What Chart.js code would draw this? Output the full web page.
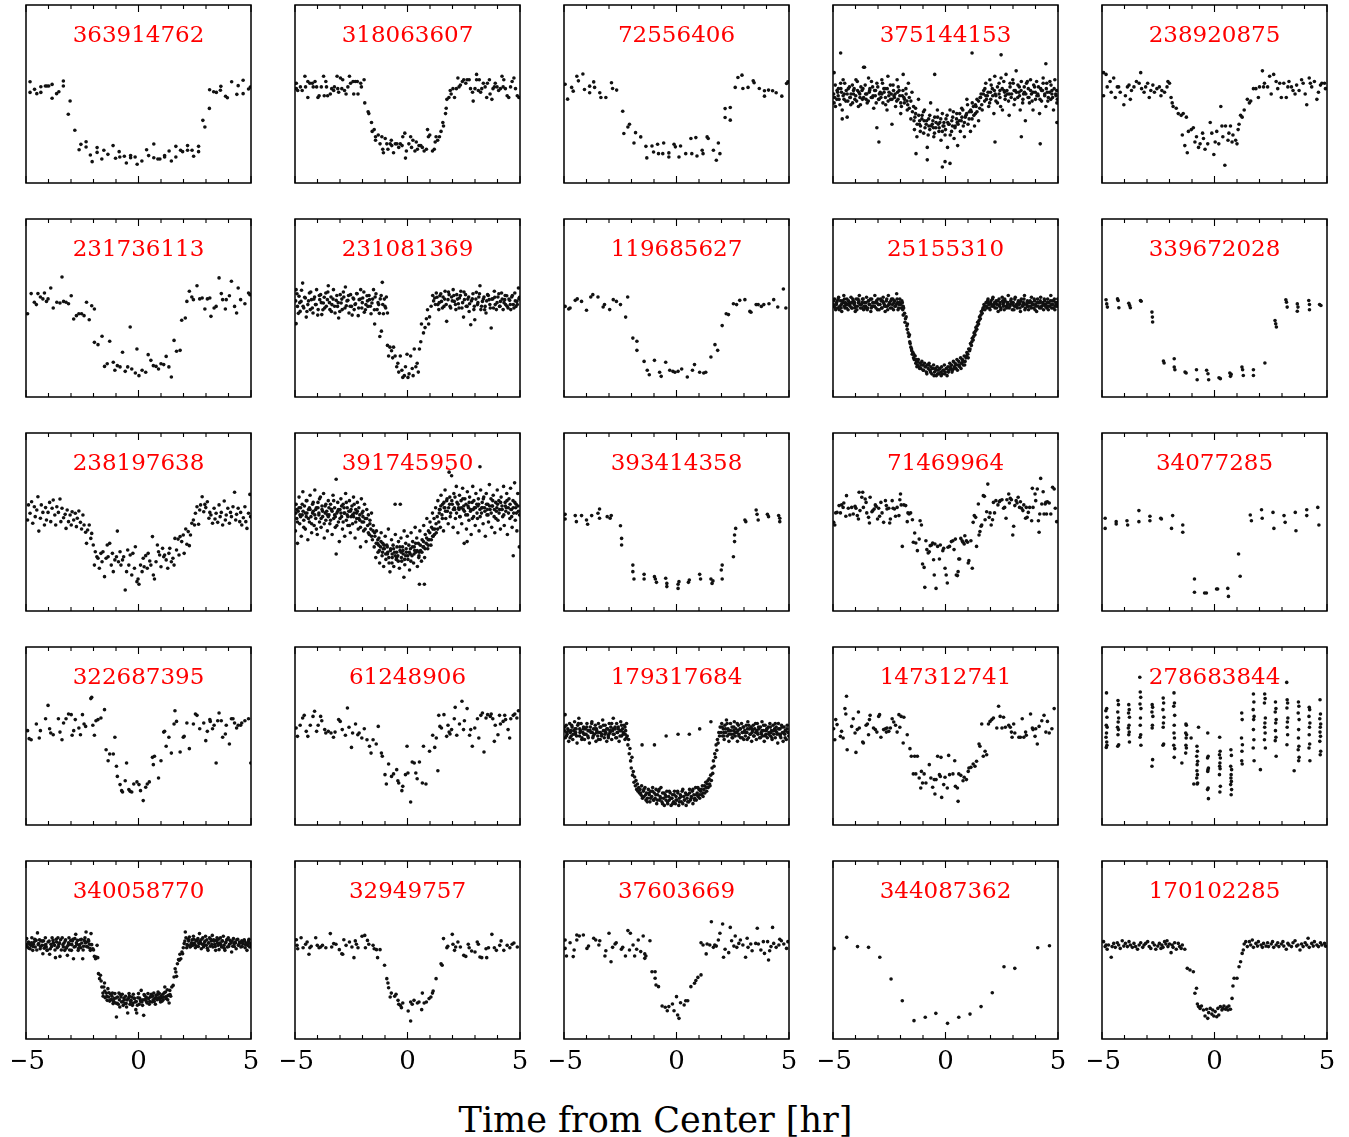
<!DOCTYPE html>
<html>
<head>
<meta charset="utf-8">
<script src="https://cdn.jsdelivr.net/npm/chart.js@4.4.1/dist/chart.umd.min.js"></script>
<style>
  body { margin: 0; background: #fff; width: 1349px; height: 1137px; position: relative; overflow: hidden; }
  canvas.panel { position: absolute; }
  #xlabel { position: absolute; left: 0; width: 1311px; top: 1103px; line-height: 1; text-align: center;
            font-family: 'DejaVu Serif', serif; font-size: 35px; color: #000; }
</style>
</head>
<body>
<div id="xlabel">Time from Center [hr]</div>
<script>
// light curves: flat lists of (time [hr], relative flux in % of panel height)
const tic363914762 = [-4.82,56.9,-4.82,50.9,-4.62,52.6,-4.52,50.2,-4.34,54.1,-4.34,50.9,-4.14,54.5,-4.07,54.5,-3.99,54.5,-3.84,55.4,-3.84,47.6,-3.64,50.2,-3.54,51.3,-3.34,57.3,-3.34,54.5,-3.12,38.6,-3.04,46.1,-2.83,29.6,-2.64,18.7,-2.56,21.7,-2.33,23.2,-2.33,20.2,-2.14,15.7,-2.06,12.0,-1.84,19.9,-1.84,17.2,-1.63,13.5,-1.54,18.4,-1.36,16.1,-1.13,21.0,-1.02,13.9,-0.86,17.6,-0.83,14.6,-0.63,15.0,-0.54,11.2,-0.35,15.4,-0.35,14.2,-0.15,14.6,-0.06,10.5,0.15,12.4,0.36,18.7,0.45,15.4,0.68,21.9,0.68,14.2,0.86,13.5,0.95,13.5,1.16,15.4,1.16,14.6,1.36,18.0,1.46,12.4,1.66,20.6,1.66,14.6,1.87,18.4,1.96,17.6,2.18,21.0,2.18,18.4,2.38,18.4,2.45,15.0,2.67,20.6,2.67,17.6,2.86,35.2,2.95,31.5,3.15,41.9,3.16,52.4,3.34,51.3,3.46,50.9,3.64,52.1,3.66,54.3,3.87,48.7,3.95,47.9,4.14,56.9,4.37,49.8,4.43,54.7,4.65,57.7,4.65,50.2,4.89,52.8,4.97,53.9];
const tic318063607 = [-4.94,56,-4.94,53,-4.88,52,-4.76,54,-4.68,52,-4.56,60,-4.53,54,-4.43,48,-4.43,57,-4.34,56,-4.23,56,-4.19,54,-4.11,57,-4.04,54,-3.98,48,-3.93,49,-3.83,54,-3.73,60,-3.70,49,-3.63,57,-3.60,54,-3.55,49,-3.43,50,-3.37,53,-3.28,52,-3.25,54,-3.13,60,-3.10,53,-3.06,51,-2.98,59,-2.92,53,-2.88,58,-2.80,52,-2.73,50,-2.65,54,-2.58,60,-2.53,56,-2.42,57,-2.39,50,-2.32,57,-2.23,57,-2.20,50,-2.08,56,-2.05,54,-1.93,58,-1.90,45,-1.75,40,-1.72,39,-1.60,34,-1.57,29,-1.48,30,-1.42,26,-1.42,24,-1.30,27,-1.22,22,-1.14,26,-1.10,19,-1.07,17,-0.99,25,-0.92,22,-0.87,19,-0.77,22,-0.72,24,-0.70,21,-0.62,17,-0.54,22,-0.47,22,-0.39,20,-0.32,22,-0.24,21,-0.21,26,-0.12,28,-0.09,14,-0.05,18,0.06,22,0.14,26,0.18,20,0.24,24,0.33,18,0.39,23,0.44,19,0.51,21,0.59,21,0.66,20,0.74,18,0.84,19,0.89,30,0.93,26,0.99,27,1.11,18,1.19,19,1.23,23,1.27,26,1.34,24,1.42,26,1.49,29,1.57,34,1.60,32,1.69,39,1.72,42,1.75,47,1.84,48,1.90,52,1.94,50,2.02,53,2.09,48,2.17,53,2.24,59,2.29,54,2.35,55,2.44,57,2.50,58,2.59,56,2.65,58,2.74,58,2.80,53,2.89,51,2.92,46,3.00,53,3.07,61,3.07,58,3.15,52,3.19,58,3.25,51,3.30,53,3.37,56,3.45,54,3.52,48,3.55,56,3.64,58,3.67,50,3.75,47,3.80,53,3.86,54,3.90,56,3.98,54,4.05,52,4.13,53,4.20,60,4.25,54,4.28,58,4.35,53,4.43,49,4.50,48,4.58,54,4.65,57,4.73,59,4.80,53,4.88,49,4.95,48];
const tic72556406 = [-4.95,55.5,-4.84,47.1,-4.66,53.7,-4.59,51.6,-4.43,60.0,-4.36,57.4,-4.16,61.2,-4.09,52.5,-3.86,54.4,-3.86,50.7,-3.68,56.8,-3.64,53.7,-3.41,50.7,-3.36,48.0,-3.14,48.0,-2.89,56.3,-2.84,53.1,-2.66,52.2,-2.39,40.3,-2.34,27.8,-2.16,31.5,-2.09,33.0,-1.89,22.5,-1.82,28.3,-1.59,25.9,-1.36,20.6,-1.32,14.1,-1.09,20.8,-1.02,17.4,-0.84,21.8,-0.80,16.5,-0.61,16.5,-0.57,22.5,-0.34,16.9,-0.34,14.6,-0.11,21.8,-0.05,20.3,0.11,14.6,0.18,20.8,0.41,16.5,0.64,25.0,0.68,16.5,0.86,25.5,0.91,15.2,1.14,18.4,1.18,16.5,1.36,25.9,1.41,25.0,1.64,18.4,1.77,12.8,1.86,22.5,1.93,16.5,2.16,41.8,2.16,36.8,2.39,42.4,2.39,35.3,2.61,53.7,2.73,59.3,2.91,60.6,2.95,53.1,3.18,53.7,3.41,57.4,3.45,56.3,3.68,53.1,3.91,51.8,3.91,48.8,4.09,52.2,4.27,51.8,4.43,50.7,4.68,48.8,4.89,55.9,4.95,56.8];
const tic375144153 = [-4.95,62,-4.95,45,-4.89,43,-4.82,52,-4.77,49,-4.73,47,-4.66,56,-4.59,41,-4.55,58,-4.50,50,-4.43,46,-4.37,37,-4.32,53,-4.25,48,-4.21,44,-4.14,55,-4.09,50,-4.03,47,-3.98,58,-3.91,52,-3.87,43,-3.80,48,-3.76,54,-3.69,47,-3.64,65,-3.55,50,-3.48,45,-3.42,59,-3.37,52,-3.30,48,-3.24,54,-3.19,42,-3.12,49,-3.05,56,-2.96,47,-2.90,51,-2.83,58,-2.78,45,-2.74,53,-2.67,48,-2.60,41,-2.56,60,-2.51,51,-2.44,47,-2.38,33,-2.33,55,-2.29,49,-2.22,43,-2.15,58,-2.11,47,-2.06,52,-1.99,39,-1.92,49,-1.88,61,-1.83,45,-1.76,53,-1.70,41,-1.65,56,-1.61,48,-1.54,36,-1.49,51,
-1.42,43,-1.38,30,-1.33,39,-1.27,26,-1.20,47,-1.15,35,-1.11,32,-1.04,38,-0.97,28,-0.93,41,-0.86,33,-0.81,20,-0.75,36,-0.70,30,-0.66,45,-0.59,33,-0.52,26,-0.48,37,-0.43,31,-0.36,41,-0.29,29,-0.25,34,-0.20,24,-0.14,39,-0.07,32,-0.02,27,0.02,36,0.09,20,0.16,33,0.20,41,0.27,29,0.32,37,0.38,25,0.43,32,0.50,39,0.54,21,0.61,35,0.66,29,0.72,42,0.79,32,0.84,26,0.88,37,0.95,47,1.00,33,1.06,40,1.11,29,1.18,36,1.24,43,1.29,32,1.33,39,1.40,47,1.47,35,1.52,42,1.56,48,
1.63,41,1.70,52,1.74,46,1.79,56,1.86,49,1.92,43,1.97,58,2.01,47,2.08,53,2.15,39,2.19,60,2.24,49,2.31,45,2.38,56,2.42,48,2.47,59,2.53,41,2.60,52,2.65,47,2.69,61,2.76,50,2.83,38,2.87,56,2.92,48,2.99,58,3.05,44,3.10,52,3.14,63,3.21,48,3.28,54,3.32,41,3.37,57,3.44,47,3.51,51,3.55,35,3.60,56,3.67,48,3.73,45,3.78,58,3.82,50,3.89,41,3.96,54,4.00,47,4.05,57,4.12,49,4.18,39,4.23,53,4.27,46,4.34,59,4.41,50,4.46,43,4.50,56,4.57,48,4.64,57,4.68,47,4.73,52,4.80,41,4.86,58,4.91,49,4.95,45,
-4.66,73,-3.60,65,-0.48,61,1.18,73,2.47,72,4.46,67,-3.05,31,-2.96,23,-4.59,36,-1.31,16.5,-0.81,13,-0.14,9,-0.02,12,0.20,11,4.21,22,2.20,23,3.37,26,4.95,34,
-4.97,50,-4.90,55,-4.83,47,-4.76,53,-4.69,44,-4.62,51,-4.55,49,-4.48,56,-4.41,52,-4.34,46,-4.27,54,-4.20,50,-4.13,45,-4.06,53,-3.99,49,-3.92,57,-3.85,51,-3.78,44,-3.71,52,-3.64,48,-3.57,55,-3.50,50,-3.43,46,-3.36,53,-3.29,57,-3.22,49,-3.15,52,-3.08,45,-3.01,54,-2.94,50,-2.87,48,-2.80,56,-2.73,51,-2.66,44,-2.59,53,-2.52,49,-2.45,55,-2.38,47,-2.31,52,-2.24,50,-2.17,46,-2.10,54,-2.03,49,-1.96,43,-1.89,52,-1.82,47,-1.75,50,-1.68,44,-1.61,42,-1.54,46,
-4.93,48,-4.79,51,-4.65,53,-4.51,47,-4.37,50,-4.23,48,-4.09,52,-3.95,46,-3.81,50,-3.67,53,-3.53,47,-3.39,51,-3.25,48,-3.11,52,-2.97,47,-2.83,50,-2.69,53,-2.55,46,-2.41,50,-2.27,48,-2.13,51,-1.99,45,-1.85,48,-1.71,46,
-1.47,40,-1.40,35,-1.33,42,-1.26,33,-1.19,38,-1.12,29,-1.05,36,-0.98,40,-0.91,31,-0.84,35,-0.77,27,-0.70,38,-0.63,32,-0.56,35,-0.49,28,-0.42,34,-0.35,37,-0.28,31,-0.21,36,-0.14,29,-0.07,34,0.00,30,0.07,38,0.14,33,0.21,27,0.28,35,0.35,40,0.42,31,0.49,36,0.56,33,0.63,39,0.70,35,0.77,41,0.84,34,0.91,38,0.98,44,1.05,36,1.12,41,1.19,45,1.26,38,1.33,44,1.40,40,1.47,46,
-1.36,37,-1.16,33,-0.95,35,-0.74,32,-0.53,31,-0.32,33,-0.11,32,0.10,34,0.31,32,0.52,34,0.73,37,0.94,39,1.15,40,1.36,43,
1.54,48,1.61,44,1.68,50,1.75,53,1.82,47,1.89,51,1.96,45,2.03,55,2.10,49,2.17,52,2.24,46,2.31,54,2.38,50,2.45,43,2.52,53,2.59,57,2.66,49,2.73,52,2.80,46,2.87,54,2.94,50,3.01,56,3.08,47,3.15,51,3.22,55,3.29,49,3.36,52,3.43,45,3.50,54,3.57,50,3.64,57,3.71,48,3.78,52,3.85,46,3.92,55,3.99,51,4.06,49,4.13,54,4.20,47,4.27,52,4.34,56,4.41,49,4.48,53,4.55,46,4.62,51,4.69,55,4.76,48,4.83,53,4.90,50,4.97,47,
1.58,50,1.79,49,2.00,51,2.21,50,2.42,52,2.63,51,2.84,50,3.05,52,3.26,51,3.47,50,3.68,53,3.89,51,4.10,50,4.31,52,4.52,51,4.73,50,4.94,52];
const tic238920875 = [-4.93,62,-4.93,49,-4.82,61,-4.77,54,-4.64,57,-4.59,51,-4.48,59,-4.41,48,-4.32,54,-4.26,54,-4.19,51,-4.03,44,-3.96,49,-3.87,54,-3.80,55,-3.74,47,-3.69,52,-3.58,54,-3.47,57,-3.35,56,-3.28,62,-3.24,53,-3.13,51,-3.06,54,-2.97,56,-2.90,48,-2.83,52,-2.74,55,-2.67,51,-2.56,53,-2.45,54,-2.38,49,-2.34,52,-2.22,51,-2.11,54,-2.07,57,-2.00,56,-1.93,48,-1.88,45,-1.84,43,-1.70,42,-1.61,39,-1.48,38,-1.39,39,-1.25,37,-1.43,27,-1.32,21,-1.21,17,-1.16,29,-1.03,30,-0.94,31,-0.87,23,-0.80,26,-0.71,20,-0.64,22,-0.53,28,-0.49,25,-0.42,19,-0.30,22,-0.19,34,-0.12,28,-0.03,16,0.03,23,0.10,29,0.19,22,0.28,43,0.33,32,0.37,26,0.46,10,0.49,32,0.60,24,0.64,28,0.71,32,0.78,23,0.82,27,0.94,24,1.00,22,1.05,30,1.09,33,1.16,38,1.23,37,1.32,41,1.46,47,1.55,45,1.61,46,1.73,53,1.84,53,1.95,48,2.00,54,2.13,63,2.18,54,2.22,56,2.36,54,2.45,60,2.52,50,2.63,61,2.74,57,2.81,53,2.90,56,2.97,48,3.08,56,3.19,48,3.26,54,3.31,57,3.42,54,3.49,52,3.58,50,3.65,55,3.76,52,3.87,58,3.94,56,4.03,50,4.10,44,4.21,59,4.26,56,4.32,54,4.44,57,4.55,47,4.62,51,4.71,55,4.77,56,4.89,56,4.93,53];
const tic231736113 = [-4.93,46.8,-4.77,58.1,-4.63,53.2,-4.54,51.9,-4.47,58.1,-4.36,56.2,-4.25,55.1,-4.18,58.4,-4.09,53.7,-4.02,55.1,-3.90,61.2,-3.79,50.0,-3.63,53.2,-3.49,52.8,-3.40,67.4,-3.33,53.7,-3.22,53.2,-3.11,52.4,-2.99,56.9,-2.88,43.8,-2.76,45.7,-2.65,46.8,-2.53,46.8,-2.42,45.7,-2.31,53.2,-2.19,43.4,-2.08,51.3,-1.96,49.4,-1.96,30.7,-1.80,29.4,-1.62,34.1,-1.51,17.2,-1.39,18.7,-1.28,31.3,-1.12,19.5,-1.05,15.0,-0.94,17.6,-0.82,16.9,-0.71,25.1,-0.59,14.4,-0.48,16.9,-0.37,39.3,-0.30,15.7,-0.14,13.5,-0.07,27.0,0.02,12.0,0.16,15.0,0.32,13.9,0.43,23.8,0.55,20.6,0.66,17.6,0.78,17.2,0.89,15.7,1.00,18.7,1.12,18.2,1.23,22.8,1.35,16.9,1.46,11.2,1.58,31.8,1.69,25.7,1.85,26.2,1.92,43.1,2.08,44.4,2.15,53.7,2.26,59.4,2.37,56.2,2.44,54.7,2.60,62.5,2.72,55.1,2.83,55.6,2.95,49.4,3.06,55.1,3.17,55.6,3.22,45.3,3.36,50.0,3.45,50.9,3.58,66.9,3.68,58.1,3.74,54.7,3.86,49.4,3.90,54.7,4.04,56.9,4.13,65.0,4.27,50.9,4.36,47.2,4.43,61.2,4.54,54.7,4.73,52.4,4.89,58.4,4.95,57.5];
const tic231081369 = [-4.95,60.3,-4.95,41.2,-4.89,50.9,-4.82,56.6,-4.77,48.1,-4.73,53.7,-4.66,64.0,-4.61,50.0,-4.54,55.6,-4.50,44.9,-4.43,51.9,-4.36,58.4,-4.32,49.1,-4.27,54.7,-4.20,47.2,-4.13,56.2,-4.09,51.9,-4.04,60.3,-3.97,49.1,-3.90,54.7,-3.86,57.5,-3.81,46.3,-3.74,52.8,-3.68,50.0,-3.63,58.4,-3.56,54.7,-3.52,62.5,-3.45,49.1,-3.40,56.2,-3.36,51.9,-3.29,60.3,-3.22,47.2,-3.17,54.3,-3.11,50.9,-3.06,44.4,-2.99,57.5,-2.95,52.8,-2.90,49.1,-2.83,56.2,-2.76,61.8,-2.72,51.3,-2.65,54.3,-2.60,47.2,-2.53,57.5,-2.49,50.9,-2.42,55.6,-2.37,49.1,-2.31,52.4,-2.26,58.1,-2.19,45.7,-2.15,54.7,-2.08,60.3,-2.03,50.0,-1.99,55.6,-1.92,47.6,-1.85,51.9,-1.80,56.9,-1.76,50.9,-1.69,54.7,-1.62,46.8,-1.58,52.8,-1.51,60.3,-1.44,56.2,-1.35,49.1,-1.28,51.9,-1.21,55.1,-1.12,64.4,-1.07,46.8,-1.00,50.9,-0.94,56.2,-0.89,47.2,
-1.46,41,-1.23,34,-1.16,37,-0.89,29,-0.84,23,-0.78,28,-0.71,26,-0.66,22,-0.62,28,-0.55,23,-0.48,17,-0.43,19,-0.39,14,-0.32,23,-0.25,15,-0.21,11,-0.14,12,-0.09,17,-0.02,24,0.02,11,0.07,13,0.14,23,0.21,16,0.25,12,0.30,27,0.37,17,0.43,19,0.48,14,0.53,27,0.59,31,0.62,41,0.71,36,0.78,39,0.84,44,0.89,49,0.94,41,0.98,45,1.05,51,1.12,57,1.16,54,
1.21,55.6,1.28,58.4,1.35,51.9,1.39,49.1,1.44,56.9,1.51,53.7,1.58,56.2,1.62,50.9,1.67,59.4,1.74,42.5,1.80,54.7,1.85,57.5,1.89,50.9,1.96,56.2,2.03,60.3,2.08,53.7,2.15,49.1,2.19,57.5,2.26,52.4,2.31,55.6,2.37,59.4,2.42,50.0,2.49,44.9,2.53,54.7,2.58,57.5,2.65,50.9,2.72,56.2,2.76,52.4,2.81,40.6,2.88,55.1,2.95,49.1,2.99,43.4,3.06,58.8,3.11,51.9,3.17,56.2,3.22,62.5,3.26,49.1,3.33,53.7,3.40,56.2,3.45,50.9,3.49,47.2,3.56,57.5,3.63,54.7,3.68,50.0,3.72,38.8,3.79,55.1,3.86,59.4,3.90,51.9,3.95,49.1,4.02,56.2,4.09,50.9,4.13,53.7,4.18,58.4,4.25,49.1,4.32,54.7,4.36,51.9,4.41,56.9,4.47,50.0,4.54,54.3,4.59,49.1,4.63,56.2,4.70,51.9,4.77,58.4,4.82,50.9,4.86,53.7,4.93,61.2,4.95,55.1,
-4.97,54,-4.91,58,-4.85,47,-4.79,53,-4.71,60,-4.64,51,-4.57,56,-4.47,48,-4.40,54,-4.30,59,-4.23,50,-4.16,55,-4.06,52,-3.99,46,-3.92,57,-3.83,53,-3.76,49,-3.70,56,-3.61,51,-3.54,59,-3.47,53,-3.38,48,-3.31,55,-3.24,51,-3.14,57,-3.08,53,-3.01,48,-2.92,55,-2.85,59,-2.78,50,-2.69,54,-2.62,57,-2.55,51,-2.46,46,-2.39,55,-2.33,52,-2.24,58,-2.17,50,-2.10,55,-2.01,53,-1.94,59,-1.87,49,-1.78,54,-1.71,57,-1.65,51,-1.55,55,-1.47,49,-1.40,58,-1.31,53,-1.25,47,-1.17,57,-1.10,52,-1.03,55,-0.97,50,
1.24,52,1.31,56,1.41,53,1.48,58,1.55,50,1.65,55,1.72,52,1.82,59,1.92,50,1.99,54,2.06,57,2.13,52,2.22,55,2.29,50,2.35,57,2.45,53,2.51,59,2.61,51,2.68,55,2.74,48,2.84,54,2.91,58,2.97,51,3.04,55,3.13,53,3.20,58,3.29,51,3.37,55,3.43,49,3.52,54,3.59,57,3.66,52,3.75,55,3.82,50,3.88,56,3.98,53,4.06,58,4.11,51,4.21,55,4.29,53,4.34,57,4.43,51,4.51,55,4.57,52,4.66,57,4.73,50,4.79,54,4.88,52,4.98,56];
const tic119685627 = [-4.95,50.9,-4.79,49.4,-4.73,50.0,-4.50,54.3,-4.41,55.1,-4.22,53.7,-4.00,48.7,-3.81,56.2,-3.72,57.5,-3.49,56.2,-3.26,50.6,-3.20,51.9,-2.97,49.1,-2.81,54.7,-2.67,53.7,-2.49,51.9,-2.26,44.9,-2.17,56.2,-1.94,33.1,-1.76,31.3,-1.76,26.2,-1.44,20.0,-1.30,15.0,-1.21,12.5,-0.98,20.6,-0.75,13.9,-0.68,11.6,-0.48,19.5,-0.30,15.0,-0.16,14.4,-0.07,13.9,0.07,14.4,0.23,15.7,0.48,11.2,0.71,15.0,0.80,18.2,1.03,13.9,1.21,13.5,1.30,13.9,1.53,22.5,1.71,29.4,1.83,26.2,2.03,40.1,2.21,46.8,2.31,46.3,2.53,52.4,2.67,51.9,2.81,54.3,3.04,54.7,3.26,48.1,3.31,47.6,3.54,51.9,3.63,51.9,3.77,50.9,3.88,51.9,4.11,52.4,4.32,54.7,4.50,50.6,4.75,60.7,4.86,50.0];
const tic25155310 = [-4.98,52,-4.93,55,-4.88,49,-4.84,53,-4.79,50,-4.75,56,-4.70,51,-4.66,54,-4.61,48,-4.56,53,-4.52,57,-4.47,50,-4.43,52,-4.38,55,-4.33,49,-4.29,53,-4.24,51,-4.20,56,-4.15,50,-4.10,54,-4.06,52,-4.01,48,-3.97,55,-3.92,51,-3.87,53,-3.83,57,-3.78,50,-3.74,52,-3.69,55,-3.64,49,-3.60,53,-3.55,51,-3.51,56,-3.46,50,-3.41,54,-3.37,52,-3.32,48,-3.28,55,-3.23,53,-3.18,51,-3.14,57,-3.09,50,-3.05,53,-3.00,55,-2.95,49,-2.91,52,-2.86,54,-2.82,50,-2.77,56,-2.72,52,-2.68,48,-2.63,54,-2.59,51,-2.54,57,-2.49,53,-2.45,50,-2.40,55,-2.36,52,-2.31,49,-2.26,54,-2.22,51,-2.17,58,-2.13,53,-2.08,50,-2.03,55,-1.99,52,-1.94,54,-1.90,49,
-4.95,51,-4.81,54,-4.64,50,-4.49,55,-4.35,52,-4.18,53,-4.03,50,-3.89,55,-3.71,53,-3.57,50,-3.43,54,-3.26,51,-3.11,53,-2.97,52,-2.80,54,-2.65,51,-2.50,52,-2.34,55,-2.19,52,-2.05,53,
-1.86,50,-1.82,47,-1.78,44,-1.75,45,-1.72,40,-1.69,41,-1.66,36,-1.63,34,-1.60,35,-1.57,30,-1.54,28,-1.51,27,-1.48,24,-1.45,25,-1.42,22,-1.39,21,-1.35,23,-1.32,19,-1.28,20,
-1.25,18,-1.21,21,-1.17,17,-1.13,19,-1.09,16,-1.05,20,-1.01,18,-0.97,15,-0.93,19,-0.89,17,-0.85,14,-0.81,18,-0.77,16,-0.73,19,-0.69,15,-0.65,17,-0.61,13,-0.57,16,-0.53,18,-0.49,14,-0.45,16,-0.41,12,-0.37,17,-0.33,15,-0.29,13,-0.25,16,-0.21,14,-0.17,17,-0.13,13,-0.09,15,-0.05,18,-0.01,14,0.03,16,0.07,12,0.11,17,0.15,15,0.19,19,0.23,16,0.27,18,0.31,15,0.35,20,0.39,17,0.43,19,0.47,16,0.51,21,0.55,18,0.59,20,0.63,17,0.67,22,0.71,19,0.75,21,0.79,18,0.83,23,0.87,20,0.91,22,0.95,25,
0.99,24,1.03,27,1.07,26,1.11,30,1.15,29,1.19,33,1.23,32,1.27,36,1.31,35,1.35,39,1.39,38,1.43,42,1.47,41,1.51,45,1.55,44,1.59,48,1.63,47,1.67,50,1.71,52,1.75,49,
1.80,53,1.84,50,1.89,55,1.93,52,1.98,49,2.02,54,2.07,51,2.11,56,2.16,52,2.20,50,2.25,54,2.29,52,2.34,48,2.38,55,2.43,53,2.47,50,2.52,56,2.56,52,2.61,49,2.65,54,2.70,51,2.74,53,2.79,57,2.83,50,2.88,52,2.92,55,2.97,49,3.01,53,3.06,51,3.10,56,3.15,52,3.19,50,3.24,54,3.28,52,3.33,48,3.37,55,3.42,51,3.46,53,3.51,57,3.55,50,3.60,52,3.64,54,3.69,49,3.73,53,3.78,51,3.82,56,3.87,52,3.91,50,3.96,54,4.00,52,4.05,48,4.09,55,4.14,53,4.18,50,4.23,56,4.27,51,4.32,53,4.36,49,4.41,54,4.45,52,4.50,50,4.54,55,4.59,53,4.63,51,4.68,57,4.72,50,4.77,52,4.81,54,4.86,49,4.90,53,4.95,51,4.99,55,
1.86,53,2.05,52,2.22,53,2.40,51,2.58,53,2.76,52,2.94,53,3.12,51,3.30,53,3.48,52,3.66,51,3.84,53,4.02,51,4.20,53,4.38,52,4.56,51,4.74,54,4.92,52,
-4.97,54,-4.90,50,-4.85,52,-4.77,55,-4.72,49,-4.63,52,-4.58,54,-4.50,51,-4.45,53,-4.40,50,-4.31,54,-4.26,52,-4.17,50,-4.12,55,-4.04,53,-3.99,51,-3.94,49,-3.85,54,-3.80,52,-3.72,50,-3.66,55,-3.62,51,-3.53,53,-3.48,49,-3.39,52,-3.34,55,-3.30,50,-3.21,53,-3.16,51,-3.07,54,-3.02,49,-2.98,52,-2.89,55,-2.84,50,-2.75,53,-2.70,51,-2.61,55,-2.57,49,-2.52,52,-2.43,54,-2.38,50,-2.29,53,-2.24,51,-2.15,55,-2.11,49,-2.06,52,-1.97,50,-1.92,53,-1.88,51,
-1.23,20,-1.15,16,-1.07,18,-0.99,15,-0.91,17,-0.83,13,-0.75,18,-0.67,14,-0.59,16,-0.51,12,-0.43,15,-0.35,13,-0.27,16,-0.19,12,-0.11,15,-0.03,13,0.05,16,0.13,14,0.21,17,0.29,14,0.37,16,0.45,18,0.53,15,0.61,18,0.69,16,0.77,20,0.85,18,0.93,23,-1.27,17,1.01,22,1.09,27,1.17,31,1.25,34,1.33,37,1.41,40,1.49,43,1.57,46,1.65,49,1.73,51,-1.88,46,-1.80,42,-1.70,38,-1.59,31,-1.50,26,-1.41,24,-1.30,21,
1.82,51,1.87,54,1.95,50,2.00,53,2.09,55,2.14,51,2.18,53,2.27,50,2.32,54,2.41,52,2.45,49,2.54,54,2.59,51,2.63,55,2.72,50,2.77,53,2.86,51,2.90,54,2.99,52,3.04,49,3.08,55,3.17,51,3.22,53,3.31,50,3.35,54,3.44,52,3.49,55,3.53,49,3.62,53,3.67,51,3.76,54,3.80,50,3.89,52,3.94,55,3.98,49,4.07,53,4.12,51,4.21,54,4.25,50,4.34,52,4.39,55,4.43,51,4.52,53,4.57,49,4.66,54,4.70,52,4.79,50,4.84,55,4.88,51,4.97,53];
const tic339672028 = [-4.82,54.6,-4.79,52.3,-4.76,50.5,-4.31,55.1,-4.28,54.2,-4.25,50.1,-3.81,52.7,-3.77,51.4,-3.74,50.1,-3.29,54.2,-3.26,53.8,-2.78,47.7,-2.76,44.9,-2.75,42.1,-2.27,20.2,-2.24,19.1,-1.79,21.5,-1.79,16.8,-1.76,15.3,-1.31,14.0,-1.26,13.5,-0.80,15.3,-0.77,9.7,-0.35,15.0,-0.29,13.1,-0.26,9.7,0.20,10.8,0.26,10.3,0.68,13.5,0.71,11.6,0.74,12.7,1.22,16.8,1.25,15.3,1.28,12.1,1.73,15.3,1.73,12.1,2.24,19.1,2.69,43.0,2.72,41.1,2.75,39.3,3.17,54.6,3.20,53.3,3.23,50.5,3.68,52.3,3.71,50.5,3.68,48.2,4.19,54.2,4.22,52.0,4.22,49.0,4.67,52.0,4.73,51.4];
const tic238197638 = [-4.93,51.1,-4.89,59.6,-4.82,54.9,-4.75,61.4,-4.70,49.3,-4.63,58.6,-4.59,53.0,-4.52,56.7,-4.47,64.2,-4.43,44.9,-4.36,52.1,-4.32,59.6,-4.25,55.4,-4.18,48.3,-4.13,58.1,-4.09,51.1,-4.02,55.4,-3.95,61.0,-3.90,50.2,-3.84,57.7,-3.79,62.4,-3.72,53.9,-3.68,48.3,-3.63,58.6,-3.56,55.4,-3.49,62.9,-3.45,50.2,-3.40,57.7,-3.33,52.4,-3.26,54.3,-3.22,46.4,-3.17,56.7,-3.11,50.2,-3.04,53.9,-2.99,48.3,-2.95,55.8,-2.88,51.1,-2.81,54.9,-2.76,47.4,-2.72,52.1,-2.65,56.2,-2.58,49.8,-2.53,46.1,-2.47,53.9,-2.42,48.3,-2.35,44.2,-2.31,38.0,-2.26,45.5,-2.19,48.3,-2.12,40.8,-2.08,43.6,-2.01,37.1,-1.96,25.8,-1.92,33.3,-1.85,30.5,-1.80,29.6,-1.74,24.0,-1.67,32.4,-1.62,27.7,-1.58,33.3,-1.51,19.3,-1.44,29.6,-1.39,37.1,-1.35,30.5,-1.28,38.0,-1.21,25.8,-1.16,32.4,-1.12,22.1,-1.05,28.7,-0.98,30.5,-0.94,44.9,-0.89,27.7,-0.82,33.3,-0.78,25.8,-0.71,28.7,-0.66,30.5,-0.59,11.8,-0.53,22.1,-0.48,34.3,-0.43,25.8,-0.37,31.5,-0.30,20.2,-0.25,32.4,-0.18,24.0,-0.14,36.1,-0.07,16.5,-0.02,18.0,0.02,15.0,0.09,25.8,0.16,22.1,0.21,29.6,0.25,24.9,0.32,31.1,0.39,24.0,0.43,32.4,0.50,28.1,0.55,25.8,0.62,41.8,0.66,20.2,0.71,18.0,0.78,27.7,0.84,37.1,0.89,33.3,0.94,31.5,1.00,24.9,1.07,35.2,1.12,30.5,1.16,31.5,1.23,28.7,1.30,24.0,1.35,32.4,1.39,35.2,1.46,27.7,1.53,29.6,1.58,25.8,1.62,40.8,1.69,34.3,1.76,40.4,1.80,31.5,1.85,41.8,1.92,39.0,1.99,42.7,2.03,32.4,2.10,46.1,2.15,37.5,2.21,44.6,2.26,36.7,2.31,42.7,2.37,49.3,2.44,51.1,2.49,48.3,2.53,54.9,2.60,58.6,2.67,48.7,2.72,56.7,2.76,59.6,2.83,64.2,2.90,55.8,2.95,59.9,2.99,58.1,3.06,61.4,3.13,52.1,3.17,55.4,3.22,53.9,3.29,49.3,3.36,57.7,3.40,51.7,3.45,54.9,3.52,49.8,3.58,59.6,3.63,53.0,3.68,55.4,3.74,48.3,3.81,61.8,3.86,51.1,3.90,53.9,3.97,57.7,4.04,49.3,4.09,55.4,4.13,53.0,4.20,58.6,4.27,66.7,4.32,51.1,4.36,54.3,4.43,57.7,4.50,50.2,4.54,55.4,4.59,48.3,4.66,52.4,4.73,58.6,4.77,50.2,4.82,46.4,4.89,54.9,4.95,65.5,4.98,53.0];
const tic391745950 = [-4.98,45,-4.95,60,-4.92,52,-4.89,38,-4.86,56,-4.82,64,-4.79,49,-4.75,58,-4.72,42,-4.68,54,-4.65,67,-4.61,51,-4.58,59,-4.54,46,-4.50,62,-4.47,55,-4.43,40,-4.40,57,-4.36,50,-4.33,65,-4.29,53,-4.26,44,-4.22,60,-4.19,56,-4.15,48,-4.12,68,-4.08,52,-4.05,58,-4.01,43,-3.98,61,-3.94,55,-3.91,50,-3.87,64,-3.84,47,-3.80,57,-3.77,53,-3.73,66,-3.70,41,-3.66,59,-3.63,51,-3.59,56,-3.56,45,-3.52,62,-3.49,54,-3.45,49,-3.42,60,-3.38,57,-3.35,43,-3.31,65,-3.28,52,-3.24,58,-3.21,47,-3.17,74,-3.17,32,-3.14,55,-3.10,61,-3.07,50,-3.03,39,-3.00,57,-2.96,63,-2.93,53,-2.89,46,-2.86,60,-2.82,55,-2.79,42,-2.75,66,-2.72,51,-2.68,58,-2.65,48,-2.61,56,-2.58,62,-2.54,44,-2.51,53,-2.47,59,-2.44,49,-2.40,64,-2.37,55,-2.33,41,-2.30,57,-2.26,52,-2.23,61,-2.19,46,-2.16,58,-2.12,54,-2.09,36,-2.05,63,-2.02,50,-1.98,56,-1.95,45,-1.91,60,-1.88,52,-1.84,39,-1.81,57,-1.77,48,-1.74,54,-1.70,43,-1.67,51,-1.63,46,-1.60,55,-1.56,40,
-1.52,48,-1.48,36,-1.45,42,-1.41,30,-1.38,45,-1.34,38,-1.31,33,-1.27,41,-1.24,27,-1.20,36,-1.17,44,-1.13,31,-1.10,38,-1.06,25,-1.03,35,-0.99,42,-0.96,29,-0.92,37,-0.89,32,-0.85,46,-0.82,27,-0.78,22,-0.75,35,-0.71,40,-0.68,30,-0.64,37,-0.61,25,-0.57,33,-0.55,60,-0.54,43,-0.50,29,-0.47,36,-0.43,31,-0.40,39,-0.36,24,-0.33,34,-0.32,60,-0.29,41,-0.26,28,-0.22,36,-0.19,32,-0.16,19,-0.15,45,-0.12,26,-0.08,38,-0.05,33,-0.01,42,0.02,29,0.06,37,0.09,23,0.13,35,0.16,44,0.20,31,0.23,39,0.27,27,0.30,36,0.34,47,0.37,33,0.41,41,0.44,25,0.48,38,0.51,31,0.53,15,0.55,45,0.58,34,0.62,28,0.65,40,0.69,36,0.72,48,0.75,15,0.76,30,0.79,43,0.83,38,0.86,52,0.90,35,0.93,45,0.97,40,1.00,50,1.04,37,1.07,47,1.11,55,1.14,42,1.18,52,1.21,46,1.25,58,1.28,44,1.32,53,
1.35,62,1.39,50,1.42,57,1.46,47,1.49,65,1.53,54,1.56,60,1.60,45,1.63,58,1.67,68,1.70,52,1.74,62,1.77,56,1.81,49,1.85,78,1.88,64,1.92,55,1.96,76,1.99,60,2.03,47,2.06,66,2.10,57,2.13,52,2.17,70,2.20,61,2.24,44,2.27,58,2.31,65,2.34,53,2.38,62,2.41,49,2.45,69,2.48,57,2.52,38,2.55,63,2.59,54,2.62,46,2.65,39,2.66,67,2.69,59,2.73,51,2.76,64,2.80,56,2.83,43,2.87,61,2.90,70,2.94,53,2.97,58,3.01,48,3.04,66,3.08,60,3.11,52,3.15,63,3.18,45,3.22,57,3.22,81,3.25,68,3.29,55,3.32,61,3.36,49,3.39,64,3.43,58,3.46,42,3.50,66,3.53,54,3.57,60,3.60,50,3.64,71,3.67,57,3.71,63,3.74,47,3.78,59,3.81,65,3.85,53,3.88,44,3.92,61,3.95,56,3.99,68,4.02,51,4.06,62,4.09,57,4.13,46,4.16,64,4.20,59,4.23,53,4.27,70,4.30,48,4.34,61,4.37,56,4.41,66,4.44,43,4.48,58,4.51,63,4.55,52,4.58,69,4.62,57,4.65,47,4.69,62,4.70,31,4.72,55,4.76,72,4.79,51,4.83,60,4.86,45,4.90,66,4.93,56,4.97,36,
-4.96,55,-4.89,50,-4.82,58,-4.75,53,-4.68,60,-4.61,47,-4.54,55,-4.47,62,-4.40,52,-4.33,57,-4.26,49,-4.19,61,-4.12,54,-4.05,46,-3.98,58,-3.91,63,-3.84,52,-3.77,56,-3.70,49,-3.63,60,-3.56,54,-3.49,58,-3.42,51,-3.35,56,-3.28,62,-3.21,53,-3.14,48,-3.07,57,-3.00,52,-2.93,59,-2.86,50,-2.79,55,-2.72,61,-2.65,53,-2.58,48,-2.51,57,-2.44,54,-2.37,60,-2.30,50,-2.23,56,-2.16,52,-2.09,47,-2.02,55,-1.95,50,-1.88,46,-1.81,52,-1.74,44,-1.67,49,-1.60,42,-1.53,45,
-4.92,57,-4.78,54,-4.64,56,-4.50,53,-4.36,58,-4.22,55,-4.08,57,-3.94,54,-3.80,59,-3.66,55,-3.52,53,-3.38,57,-3.24,54,-3.10,56,-2.96,55,-2.82,58,-2.68,54,-2.54,56,-2.40,53,-2.26,55,-2.12,51,-1.98,53,
-1.46,44,-1.39,38,-1.32,40,-1.25,34,-1.18,39,-1.11,33,-1.04,37,-0.97,32,-0.90,36,-0.83,30,-0.76,34,-0.69,27,-0.62,35,-0.55,31,-0.48,33,-0.41,28,-0.34,36,-0.27,30,-0.20,34,-0.13,29,-0.06,35,0.01,31,0.08,33,0.15,28,0.22,36,0.29,32,0.36,38,0.43,34,0.50,30,0.57,37,0.64,33,0.71,39,0.78,35,0.85,41,0.92,37,0.99,44,1.06,40,1.13,46,1.20,43,1.27,49,1.34,46,
-1.28,37,-1.08,35,-0.88,33,-0.68,32,-0.48,30,-0.28,33,-0.08,31,0.12,32,0.32,34,0.52,33,0.72,36,0.92,40,1.12,42,
1.41,55,1.48,59,1.55,52,1.62,61,1.69,56,1.76,63,1.83,58,1.90,53,1.97,62,2.04,57,2.11,64,2.18,55,2.25,60,2.32,53,2.39,58,2.46,63,2.53,56,2.60,60,2.67,54,2.74,61,2.81,57,2.88,52,2.95,62,3.02,58,3.09,55,3.16,60,3.23,53,3.30,58,3.37,63,3.44,56,3.51,60,3.58,54,3.65,59,3.72,55,3.79,62,3.86,57,3.93,52,4.00,60,4.07,55,4.14,61,4.21,57,4.28,54,4.35,59,4.42,62,4.49,55,4.56,60,4.63,53,4.70,58,4.77,61,4.84,55,4.91,59,4.98,54,
1.45,57,1.66,58,1.87,60,2.08,58,2.29,57,2.50,59,2.71,58,2.92,57,3.13,59,3.34,58,3.55,57,3.76,59,3.97,58,4.18,57,4.39,58,4.60,57,4.81,58];
const tic393414358 = [-4.95,54.3,-4.95,51.7,-4.50,53.6,-4.45,50.2,-4.22,53.6,-4.00,51.1,-3.95,48.7,-3.77,53.6,-3.49,54.9,-3.42,57.3,-3.42,52.1,-3.08,53.0,-2.95,52.1,-2.90,53.6,-2.49,47.9,-2.44,40.8,-2.44,37.1,-1.94,25.8,-1.94,22.1,-1.89,18.0,-1.44,20.6,-1.44,18.0,-0.98,19.3,-0.94,18.0,-0.89,16.1,-0.48,18.4,-0.43,15.5,-0.43,13.7,0.07,15.0,0.07,12.7,0.11,16.5,0.53,16.1,0.57,17.4,1.03,20.6,1.07,18.0,1.53,18.0,1.58,15.5,1.62,16.9,1.99,23.0,2.03,25.8,2.03,18.0,2.53,30.5,2.58,39.0,2.58,42.7,2.63,46.4,3.04,51.1,3.08,50.2,3.54,56.7,3.58,54.3,3.63,51.1,4.04,54.3,4.09,53.0,4.54,53.6,4.59,52.1,4.59,50.2];
const tic71469964 = [-4.97,49.8,-4.92,48.3,-4.88,55.1,-4.82,55.4,-4.73,59.2,-4.67,55.1,-4.62,59.6,-4.55,58.2,-4.52,60.7,-4.43,53.2,-4.40,64.8,-4.32,57.7,-4.25,53.9,-4.17,58.2,-4.10,54.5,-4.02,58.8,-3.98,57.7,-3.92,53.6,-3.87,51.7,-3.84,66.7,-3.80,56.4,-3.72,63.9,-3.68,66.7,-3.65,58.2,-3.57,62.9,-3.53,61.0,-3.50,55.1,-3.42,52.6,-3.38,49.4,-3.35,63.9,-3.27,55.8,-3.23,56.4,-3.17,57.3,-3.12,59.6,-3.08,58.8,-3.02,51.7,-2.97,57.7,-2.93,53.2,-2.87,61.0,-2.82,55.1,-2.75,49.8,-2.67,62.0,-2.63,59.2,-2.60,57.3,-2.52,57.7,-2.48,49.4,-2.45,51.7,-2.37,62.0,-2.33,57.7,-2.27,57.3,-2.22,53.2,-2.15,58.2,-2.07,53.6,-2.03,62.5,-2.00,65.7,-1.97,59.6,-1.92,36.3,-1.85,59.6,-1.77,59.2,-1.70,50.2,-1.67,55.1,-1.62,54.5,-1.55,55.1,-1.47,51.3,-1.43,38.6,-1.37,43.8,-1.32,38.2,-1.25,33.9,-1.17,40.4,-1.13,50.7,-1.07,48.3,-1.02,26.4,-0.95,24.5,-0.92,13.3,-0.87,39.5,-0.83,34.5,-0.77,32.6,-0.72,33.3,-0.68,36.7,-0.62,37.1,-0.57,38.2,-0.53,28.8,-0.50,20.2,-0.47,37.6,-0.42,12.7,-0.35,36.3,-0.27,29.2,-0.23,37.1,-0.12,33.9,-0.08,35.2,-0.02,24.0,0.03,20.2,0.08,15.7,0.11,35.8,0.18,36.3,0.26,39.0,0.33,39.5,0.38,34.5,0.44,40.4,0.48,20.2,0.53,19.9,0.56,22.1,0.59,29.2,0.63,29.2,0.68,40.8,0.74,39.5,0.78,38.6,0.83,37.6,0.86,42.3,0.93,39.5,0.98,38.6,1.01,27.0,1.04,28.3,1.13,39.5,1.19,24.0,1.23,49.8,1.28,53.6,1.34,52.6,1.38,36.3,1.46,60.1,1.49,42.7,1.53,44.6,1.58,47.6,1.61,48.3,1.68,64.8,1.73,64.4,1.76,51.3,1.83,55.8,1.88,71.3,1.94,52.6,1.98,55.1,2.03,48.3,2.09,51.3,2.13,61.0,2.18,55.1,2.24,62.0,2.33,59.6,2.39,61.4,2.43,62.0,2.51,62.5,2.58,57.7,2.63,58.2,2.69,52.1,2.73,62.5,2.81,65.7,2.84,60.7,2.88,63.3,2.93,62.5,2.99,42.7,3.03,47.6,3.08,59.2,3.14,62.0,3.18,60.7,3.23,63.9,3.29,58.2,3.33,61.4,3.38,57.7,3.44,56.4,3.48,59.6,3.56,52.1,3.59,58.2,3.63,52.6,3.68,55.4,3.74,58.2,3.83,50.7,3.86,68.9,3.89,58.2,3.98,65.7,4.01,62.0,4.08,68.5,4.13,50.7,4.16,44.2,4.19,54.5,4.23,74.5,4.28,60.1,4.34,67.0,4.38,54.5,4.43,60.1,4.46,61.0,4.49,54.5,4.53,61.4,4.61,60.7,4.68,54.5,4.76,69.5,4.83,68.5,4.88,57.7,4.94,50.2];
const tic34077285 = [-4.86,52.1,-4.86,46.4,-4.37,50.2,-4.37,48.9,-3.89,50.7,-3.86,48.3,-3.36,56.4,-3.36,50.2,-2.87,53.2,-2.87,50.7,-2.39,52.1,-2.36,51.7,-1.91,46.4,-1.86,53.6,-1.41,48.3,-1.41,44.2,-0.89,18.0,-0.89,10.5,-0.44,10.1,-0.36,10.1,0.09,12.4,0.14,12.4,0.59,12.7,0.62,8.2,1.07,32.0,1.14,19.5,1.59,53.9,1.64,50.7,2.09,56.9,2.12,52.1,2.60,55.4,2.64,46.4,3.09,53.6,3.14,49.8,3.59,55.4,3.62,45.1,4.10,56.9,4.10,53.6,4.59,58.2,4.64,48.3];
const tic322687395 = [-4.93,53.0,-4.86,48.5,-4.77,47.9,-4.54,56.7,-4.41,48.9,-4.36,53.0,-4.13,59.7,-4.02,67.2,-3.95,54.1,-3.90,51.7,-3.79,50.7,-3.56,59.7,-3.49,52.2,-3.40,47.9,-3.33,57.3,-3.22,59.7,-3.11,62.4,-2.99,62.0,-2.95,50.4,-2.88,53.0,-2.81,59.2,-2.65,54.5,-2.58,50.7,-2.49,62.0,-2.42,56.7,-2.35,55.4,-2.12,71.0,-2.08,71.7,-2.03,56.0,-1.96,50.4,-1.89,58.6,-1.80,59.2,-1.67,60.1,-1.51,64.8,-1.44,42.3,-1.35,36.1,-1.28,39.9,-1.12,39.9,-1.05,49.3,-0.98,33.0,-0.94,27.3,-0.82,22.7,-0.75,19.3,-0.71,18.5,-0.59,24.9,-0.53,34.8,-0.43,19.9,-0.37,18.9,-0.30,18.5,-0.21,23.0,-0.07,24.2,0.02,22.7,0.09,19.3,0.21,13.7,0.32,21.2,0.39,23.0,0.48,24.2,0.62,38.0,0.66,33.9,0.71,38.6,0.89,26.4,1.00,36.1,1.12,52.2,1.16,52.6,1.23,44.2,1.35,49.3,1.46,40.4,1.58,56.7,1.62,64.2,1.69,58.2,1.85,41.0,1.99,49.3,2.03,49.8,2.15,57.3,2.26,42.9,2.44,56.7,2.53,62.4,2.60,61.6,2.72,54.1,2.90,57.3,2.99,47.4,3.06,52.6,3.17,59.2,3.19,58.2,3.29,54.1,3.36,56.0,3.45,34.8,3.52,58.6,3.58,62.9,3.68,58.6,3.74,49.3,3.86,51.1,3.90,56.0,4.04,45.5,4.13,59.7,4.20,59.7,4.27,57.3,4.36,54.5,4.43,56.0,4.54,56.0,4.59,57.3,4.73,58.6,4.89,59.7,4.99,34.8];
const tic61248906 = [-4.95,54.5,-4.89,49.8,-4.77,56.0,-4.66,60.1,-4.59,61.6,-4.50,52.6,-4.43,49.8,-4.32,56.0,-4.20,61.0,-4.13,63.9,-4.04,52.6,-3.97,56.0,-3.86,61.0,-3.81,58.6,-3.68,53.6,-3.63,51.7,-3.52,52.6,-3.40,51.7,-3.29,49.3,-3.22,52.2,-3.06,59.2,-2.99,58.2,-2.90,53.6,-2.76,50.4,-2.67,65.7,-2.60,54.9,-2.49,43.6,-2.44,51.7,-2.31,56.7,-2.21,50.7,-2.15,51.7,-2.03,48.9,-1.92,54.1,-1.80,47.9,-1.69,44.2,-1.62,40.4,-1.53,47.9,-1.39,45.5,-1.30,55.4,-1.16,40.4,-1.12,38.6,-1.00,28.3,-0.94,23.0,-0.84,34.3,-0.71,27.3,-0.62,28.7,-0.48,31.1,-0.43,24.9,-0.39,23.6,-0.25,19.3,-0.21,21.7,-0.09,28.3,-0.02,44.2,0.02,29.2,0.14,12.9,0.21,35.4,0.30,34.8,0.37,29.2,0.43,26.0,0.53,35.4,0.66,23.6,0.71,44.2,0.82,23.0,0.98,41.4,1.12,50.4,1.21,43.6,1.28,48.9,1.35,30.5,1.39,61.6,1.44,55.4,1.51,54.5,1.62,62.0,1.74,49.8,1.80,56.0,1.85,52.2,1.89,51.1,1.96,53.6,2.08,59.7,2.12,66.1,2.19,50.4,2.31,56.7,2.42,69.5,2.49,53.6,2.53,58.6,2.65,65.4,2.76,50.4,2.81,53.6,2.88,44.2,2.99,54.5,3.11,59.7,3.17,48.9,3.26,61.6,3.33,62.9,3.40,41.0,3.49,60.1,3.56,62.0,3.68,61.0,3.72,62.4,3.79,59.7,3.86,47.0,3.90,56.0,4.02,50.7,4.09,61.6,4.13,56.7,4.25,58.2,4.32,61.6,4.36,59.2,4.47,53.6,4.54,48.9,4.59,59.7,4.70,61.6,4.77,62.4,4.86,60.1,4.93,64.2];
const tic179317684 = [-4.98,53,-4.95,62,-4.94,49,-4.90,56,-4.86,51,-4.83,54,-4.79,47,-4.75,57,-4.72,52,-4.68,50,-4.64,55,-4.61,48,-4.57,53,-4.53,58,-4.50,51,-4.46,54,-4.42,46,-4.39,56,-4.34,60,-4.31,50,-4.27,53,-4.24,57,-4.20,49,-4.16,52,-4.13,55,-4.09,48,-4.05,54,-4.02,51,-3.98,57,-3.94,50,-3.91,53,-3.87,46,-3.83,55,-3.80,52,-3.76,58,-3.72,49,-3.69,54,-3.65,51,-3.61,56,-3.58,47,-3.54,53,-3.50,50,-3.47,57,-3.43,52,-3.39,48,-3.36,55,-3.32,51,-3.28,59,-3.25,53,-3.21,49,-3.17,56,-3.14,52,-3.10,47,-3.06,54,-3.03,50,-2.99,57,-2.95,52,-2.92,55,-2.88,48,-2.84,53,-2.81,60,-2.77,51,-2.73,54,-2.70,49,-2.66,57,-2.62,52,-2.59,55,-2.55,47,-2.51,53,-2.48,58,-2.44,50,-2.40,54,-2.37,51,-2.33,56,-2.29,48,-2.26,53,-2.22,57,
-4.88,52,-4.70,53,-4.48,52,-4.30,54,-4.11,51,-3.93,53,-3.74,52,-3.56,54,-3.38,52,-3.19,53,-3.01,51,-2.82,54,-2.64,52,-2.46,53,-2.28,51,
-2.19,50,-2.16,45,-2.13,48,-2.10,40,-2.07,43,-2.04,36,-2.01,32,-1.98,38,-1.95,28,-1.92,30,-1.89,24,-1.86,27,-1.83,22,-1.80,25,-1.77,20,-1.74,23,-1.71,19,-1.68,21,-1.65,18,
-1.62,20,-1.58,17,-1.55,22,-1.53,45,-1.51,15,-1.47,19,-1.44,16,-1.40,21,-1.36,14,-1.33,18,-1.29,15,-1.25,20,-1.21,17,-1.18,13,-1.14,19,-1.10,16,-1.06,21,-1.03,14,-0.99,18,-0.98,45,-0.95,15,-0.91,20,-0.88,12,-0.84,17,-0.80,19,-0.76,14,-0.73,16,-0.69,21,-0.65,13,-0.62,18,-0.58,15,-0.54,11,-0.50,17,-0.47,14,-0.46,50,-0.43,19,-0.39,12,-0.35,16,-0.32,14,-0.28,18,-0.24,11,-0.20,15,-0.17,17,-0.13,13,-0.09,19,-0.05,12,-0.02,16,0.02,14,0.06,18,0.07,51,0.10,11,0.13,15,0.17,17,0.21,13,0.25,19,0.28,12,0.32,16,0.36,14,0.40,18,0.43,11,0.47,15,0.51,17,0.55,13,0.57,51,0.58,20,0.62,14,0.66,16,0.70,19,0.73,12,0.77,17,0.81,15,0.85,21,0.88,14,0.92,18,0.96,16,1.00,20,1.03,54,1.03,15,1.07,19,1.11,17,1.15,22,1.18,16,1.22,20,1.26,18,1.30,24,1.34,19,1.37,23,1.41,21,1.45,26,1.49,22,1.53,58,
1.52,28,1.55,25,1.58,32,1.61,29,1.64,36,1.67,33,1.70,40,1.73,38,1.76,45,1.79,42,1.82,48,1.85,46,1.88,52,1.91,50,1.94,55,
1.98,52,2.01,57,2.05,50,2.08,54,2.12,48,2.15,56,2.19,52,2.22,59,2.26,50,2.29,54,2.33,47,2.36,53,2.40,57,2.43,51,2.47,55,2.50,49,2.54,53,2.57,58,2.61,50,2.64,54,2.68,52,2.71,47,2.75,56,2.78,51,2.82,54,2.85,49,2.89,57,2.92,52,2.96,55,2.99,48,3.03,53,3.06,50,3.10,56,3.13,52,3.17,58,3.20,49,3.24,54,3.27,51,3.31,55,3.34,47,3.38,53,3.41,56,3.45,50,3.48,54,3.52,52,3.55,48,3.59,57,3.62,51,3.66,54,3.69,49,3.73,55,3.76,52,3.80,58,3.83,50,3.87,53,3.90,47,3.94,56,3.97,51,4.01,54,4.04,49,4.08,55,4.11,52,4.15,57,4.18,50,4.22,53,4.25,48,4.29,56,4.32,51,4.36,54,4.39,49,4.43,55,4.46,52,4.50,46,4.53,57,4.57,51,4.60,54,4.64,49,4.67,56,4.71,52,4.74,47,4.78,55,4.81,51,4.85,53,4.88,48,4.92,56,4.95,52,4.99,50,
2.10,52,2.31,53,2.52,51,2.73,53,2.94,52,3.15,54,3.36,52,3.57,53,3.78,51,3.99,53,4.20,52,4.41,53,4.62,51,4.83,53,
-4.96,55,-4.89,50,-4.81,53,-4.73,49,-4.66,56,-4.59,51,-4.51,54,-4.44,50,-4.36,57,-4.29,52,-4.21,48,-4.14,54,-4.07,51,-3.99,55,-3.92,49,-3.84,53,-3.77,57,-3.70,50,-3.62,54,-3.55,52,-3.47,48,-3.40,55,-3.33,50,-3.25,56,-3.18,51,-3.10,54,-3.03,49,-2.96,53,-2.88,57,-2.81,51,-2.73,55,-2.66,49,-2.59,54,-2.51,50,-2.44,56,-2.36,52,-2.29,55,-2.23,49,
-1.60,18,-1.52,16,-1.45,20,-1.37,17,-1.30,13,-1.22,18,-1.15,15,-1.07,19,-1.00,14,-0.92,17,-0.85,14,-0.77,20,-0.70,15,-0.62,12,-0.55,18,-0.47,16,-0.40,13,-0.32,19,-0.25,15,-0.17,12,-0.10,17,-0.02,14,0.05,19,0.13,13,0.20,16,0.28,20,0.35,14,0.43,17,0.50,13,0.58,18,0.65,15,0.73,20,0.80,14,0.88,17,0.95,21,1.03,17,1.10,20,1.18,18,1.25,22,1.33,21,1.40,25,1.47,23,
2.03,55,2.11,50,2.18,54,2.25,57,2.33,51,2.40,53,2.47,49,2.55,55,2.62,52,2.70,57,2.77,50,2.84,54,2.92,49,2.99,55,3.06,52,3.14,48,3.21,56,3.28,51,3.36,54,3.43,50,3.51,57,3.58,52,3.65,55,3.73,49,3.80,53,3.87,56,3.95,50,4.02,54,4.10,51,4.17,55,4.24,49,4.32,53,4.39,57,4.47,51,4.54,54,4.61,50,4.69,55,4.76,52,4.83,49,4.91,54,4.98,52];
const tic147312741 = [-4.97,54.1,-4.92,47.9,-4.88,59.2,-4.82,56.4,-4.67,49.8,-4.62,52.6,-4.55,48.9,-4.47,65.4,-4.43,62.4,-4.40,72.3,-4.37,42.3,-4.17,55.4,-4.10,59.7,-4.02,51.7,-3.98,40.8,-3.92,53.6,-3.87,63.5,-3.83,54.5,-3.68,46.6,-3.65,46.1,-3.53,56.0,-3.47,56.7,-3.42,50.7,-3.38,59.2,-3.35,61.6,-3.20,54.5,-3.12,53.6,-3.05,52.2,-2.97,61.0,-2.93,62.0,-2.87,49.3,-2.75,53.6,-2.67,54.1,-2.63,52.2,-2.60,54.5,-2.52,52.6,-2.45,54.5,-2.37,59.7,-2.30,57.9,-2.22,56.0,-2.15,52.2,-2.07,62.0,-2.03,54.9,-1.97,61.0,-1.88,46.1,-1.85,60.5,-1.70,50.7,-1.58,42.9,-1.52,38.6,-1.43,28.7,-1.37,38.6,-1.32,28.7,-1.25,38.6,-1.17,26.4,-1.10,20.8,-1.07,30.1,-1.02,23.6,-0.95,28.7,-0.87,23.6,-0.72,33.9,-0.65,26.4,-0.57,21.2,-0.50,25.5,-0.47,17.4,-0.42,25.5,-0.35,38.6,-0.27,28.3,-0.23,27.3,-0.20,38.0,-0.17,15.5,-0.08,22.7,-0.02,26.8,0.08,20.8,0.14,39.1,0.18,28.3,0.33,28.7,0.41,36.1,0.44,21.7,0.53,20.8,0.56,13.3,0.59,28.7,0.68,27.9,0.78,24.9,0.83,26.8,0.93,25.5,1.01,30.1,1.04,32.0,1.13,32.4,1.23,34.3,1.31,33.0,1.38,35.8,1.49,45.5,1.53,44.2,1.61,56.7,1.68,38.6,1.76,41.4,1.83,39.5,1.91,56.7,1.98,58.2,2.06,59.2,2.13,60.1,2.28,54.5,2.36,66.7,2.43,61.0,2.51,54.5,2.58,60.5,2.66,54.9,2.81,56.0,2.88,54.9,2.93,52.2,2.96,49.3,3.03,56.7,3.08,51.7,3.26,49.3,3.33,49.3,3.41,59.7,3.48,49.3,3.56,52.2,3.59,50.4,3.78,62.4,3.86,54.5,3.89,53.6,3.98,49.8,4.01,54.1,4.08,45.5,4.16,55.4,4.28,58.6,4.38,61.6,4.46,52.2,4.53,58.2,4.61,51.7,4.73,54.1,4.83,65.4];
const tic278683844 = [-4.80,74.2,-4.79,65.4,-4.83,64.2,-4.78,60.5,-4.81,56.0,-4.77,54.9,-4.80,51.7,-4.82,49.3,-4.79,46.6,-4.78,44.8,-4.81,43.6,
-4.29,69.9,-4.27,67.6,-4.30,63.5,-4.26,60.1,-4.28,57.9,-4.31,54.9,-4.27,53.6,-4.29,50.7,-4.26,45.1,-4.30,44.2,
-3.81,67.6,-3.79,64.8,-3.82,62.9,-3.78,60.5,-3.80,56.0,-3.83,54.5,-3.79,52.2,-3.81,50.7,-3.78,46.6,
-3.30,74.7,-3.28,71.7,-3.31,68.0,-3.27,65.4,-3.29,60.1,-3.30,56.0,-3.28,50.7,-3.31,49.3,-3.27,44.8,-3.32,83.0,
-2.77,67.6,-2.75,66.1,-2.78,63.5,-2.74,61.0,-2.76,56.0,-2.77,54.5,-2.75,36.7,-2.78,33.0,
-2.28,71.3,-2.26,68.5,-2.29,64.8,-2.25,60.5,-2.27,57.3,-2.28,54.9,-2.26,45.5,-2.29,44.8,
-1.80,74.2,-1.78,68.5,-1.81,66.7,-1.77,61.6,-1.79,56.0,-1.80,51.7,-1.78,48.9,-1.81,44.8,-1.77,42.9,-1.79,38.0,
-1.27,56.7,-1.25,56.0,-1.28,51.7,-1.24,50.7,-1.26,48.9,-1.27,44.8,-1.25,43.3,-1.28,40.4,-1.45,34.8,-1.04,48.9,-0.71,54.9,
-0.78,44.2,-0.76,41.4,-0.79,38.6,-0.75,35.8,-0.77,33.9,-0.78,30.5,-0.76,28.3,-0.79,26.4,-0.75,23.6,-0.77,23.0,-0.92,23.0,
-0.30,51.7,-0.28,38.6,-0.31,37.6,-0.27,32.0,-0.29,31.1,-0.30,30.1,-0.28,20.8,-0.31,19.9,-0.27,14.8,
0.23,49.3,0.25,41.4,0.22,39.5,0.26,37.6,0.24,34.8,0.23,33.0,0.25,31.6,0.22,28.3,0.26,21.7,0.24,18.5,
0.73,42.3,0.75,39.1,0.72,33.0,0.76,31.1,0.74,28.3,0.73,26.4,0.75,24.5,0.72,22.7,0.76,19.9,0.74,17.0,
1.21,62.9,1.23,59.2,1.20,48.9,1.24,45.1,1.22,41.4,1.21,36.1,1.23,34.3,
1.73,73.6,1.75,69.1,1.72,64.8,1.76,61.0,1.74,59.2,1.73,53.6,1.75,47.9,1.72,43.3,1.76,36.1,2.04,31.1,
2.23,73.6,2.25,71.0,2.22,68.5,2.26,60.1,2.24,57.3,2.23,54.9,2.25,51.7,2.22,47.9,2.26,43.3,
2.71,69.1,2.73,65.4,2.70,63.5,2.74,59.2,2.72,57.3,2.71,53.0,2.73,49.3,2.70,47.4,2.74,38.6,
3.23,70.4,3.25,68.5,3.22,65.7,3.26,60.1,3.24,57.9,3.23,54.9,3.25,50.7,3.22,45.1,3.21,80.1,
3.73,69.1,3.75,66.7,3.72,62.9,3.76,59.2,3.74,53.6,3.73,48.9,3.75,44.2,3.72,42.3,3.76,38.0,3.74,36.1,3.54,30.5,
4.21,66.1,4.23,64.8,4.20,61.0,4.24,57.3,4.22,54.9,4.21,50.7,4.23,45.5,4.20,43.3,4.24,36.1,
4.69,70.4,4.71,62.4,4.68,59.7,4.72,56.7,4.70,54.9,4.69,52.2,4.71,49.8,4.68,47.0,4.72,41.4,4.70,39.5];
const tic340058770 = [-4.97,56.4,-4.94,51.7,-4.89,54.5,-4.85,53.6,-4.82,50.7,-4.79,52.6,-4.74,56.9,-4.70,49.8,-4.67,53.2,-4.64,54.5,-4.59,51.7,-4.55,55.4,-4.49,59.6,-4.44,53.6,-4.40,55.8,-4.37,50.7,-4.34,55.1,-4.29,52.6,-4.25,47.9,-4.22,55.1,-4.17,52.6,-4.14,56.9,-4.10,51.7,-4.07,49.8,-4.02,54.5,-3.95,47.6,-3.92,50.7,-3.89,53.2,-3.84,56.9,-3.80,55.4,-3.73,52.6,-3.69,45.7,-3.64,54.5,-3.61,51.3,-3.58,56.9,-3.54,53.2,-3.49,46.4,-3.46,55.8,-3.39,56.9,-3.34,51.7,-3.31,53.9,-3.28,49.8,-3.24,55.8,-3.19,51.7,-3.16,47.0,-3.13,52.6,-3.09,56.9,-3.04,53.2,-3.01,55.4,-2.98,49.8,-2.94,55.1,-2.89,45.1,-2.86,51.7,-2.83,56.4,-2.79,58.8,-2.74,53.2,-2.71,55.4,-2.68,49.8,-2.64,52.6,-2.59,55.8,-2.56,51.3,-2.52,53.9,-2.48,45.1,-2.44,52.1,-2.41,55.4,-2.38,56.9,-2.33,60.1,-2.29,54.5,-2.26,51.7,-2.23,55.8,-2.18,53.2,-2.14,49.8,-2.11,59.2,-2.03,50.7,-1.96,46.4,-1.91,45.1,-1.88,46.1,-1.84,52.6,-1.81,45.7,-1.78,36.7,-1.73,33.9,-1.69,35.8,-1.66,32.6,-1.63,29.2,-1.58,25.8,-1.57,24.0,-1.54,29.2,-1.51,31.5,-1.48,23.2,-1.43,25.8,-1.39,21.7,-1.36,28.3,-1.33,23.6,-1.28,21.3,-1.23,25.1,-1.20,22.1,-1.16,25.8,-1.13,19.9,-1.08,22.7,-1.05,25.5,-1.02,20.2,-0.98,12.4,-0.93,23.6,-0.90,19.5,-0.87,25.8,-0.83,18.0,-0.78,23.6,-0.75,20.8,-0.72,25.1,-0.68,18.9,-0.63,22.1,-0.60,19.9,-0.57,24.0,-0.53,18.0,-0.48,14.6,-0.45,22.7,-0.42,25.5,-0.38,19.5,-0.33,21.7,-0.30,23.6,-0.27,18.9,-0.23,25.1,-0.18,22.7,-0.15,20.8,-0.12,16.5,-0.08,14.6,-0.03,23.2,0.00,25.5,0.03,19.5,0.08,22.1,0.12,27.3,0.15,20.8,0.18,18.9,0.23,13.3,0.27,24.5,0.30,22.1,0.33,23.6,0.38,20.2,0.42,25.5,0.45,22.7,0.48,19.5,0.53,23.6,0.57,25.1,0.60,20.8,0.63,24.0,0.68,25.8,0.72,22.7,0.75,19.5,0.78,24.5,0.83,22.1,0.87,26.4,0.90,23.2,0.93,25.5,0.98,20.8,1.02,23.2,1.05,21.3,1.08,25.1,1.13,23.6,1.17,29.2,1.20,26.4,1.23,22.7,1.28,27.7,1.33,24.5,1.36,20.2,1.39,27.3,1.43,24.0,1.48,29.2,1.54,30.1,1.58,34.8,1.63,39.5,1.66,37.6,1.69,35.2,1.73,42.3,1.78,44.6,1.81,44.2,1.84,47.6,1.88,45.1,1.93,48.9,1.96,47.9,1.99,51.3,2.03,53.6,2.08,60.1,2.11,56.9,2.14,51.3,2.18,52.6,2.23,55.1,2.26,57.3,2.29,51.7,2.33,53.2,2.38,55.8,2.41,52.6,2.44,57.7,2.48,53.9,2.53,51.3,2.56,55.4,2.59,52.1,2.64,56.4,2.68,53.6,2.71,59.2,2.74,55.1,2.79,50.7,2.83,53.2,2.86,56.9,2.89,51.7,2.94,54.5,2.98,57.7,3.01,52.6,3.04,55.8,3.09,49.8,3.13,53.9,3.16,56.9,3.19,52.1,3.24,55.1,3.28,58.2,3.31,51.7,3.34,55.8,3.39,53.2,3.43,49.8,3.46,55.4,3.49,56.9,3.54,52.6,3.58,50.2,3.61,53.9,3.64,56.9,3.69,51.7,3.73,55.1,3.77,57.7,3.80,52.6,3.84,49.8,3.89,54.5,3.92,55.8,3.95,51.7,3.99,56.9,4.04,53.2,4.07,55.4,4.14,48.9,4.19,52.1,4.22,56.4,4.25,53.6,4.29,54.5,4.34,50.7,4.37,55.8,4.44,52.6,4.49,54.5,4.55,51.7,4.59,55.1,4.64,53.6,4.70,55.8,4.74,51.3,4.79,53.9,4.82,49.8,4.85,52.6,4.89,55.1,4.94,51.7,4.97,53.6,
-4.95,53,-4.87,51,-4.76,54,-4.69,52,-4.61,56,-4.52,50,-4.46,53,-4.35,52,-4.27,55,-4.19,51,-4.12,53,-4.04,50,-3.97,55,-3.86,52,-3.78,54,-3.71,50,-3.66,56,-3.56,52,-3.51,54,-3.43,50,-3.36,53,-3.26,55,-3.21,51,-3.11,54,-3.06,50,-2.96,53,-2.91,56,-2.81,52,-2.76,54,-2.66,51,-2.61,53,-2.54,56,-2.46,50,-2.36,54,-2.31,52,-2.21,55,-2.16,51,-2.08,53,-2.00,50,
-1.50,27,-1.41,24,-1.31,26,-1.25,22,-1.18,24,-1.10,21,-1.00,23,-0.95,20,-0.85,22,-0.80,25,-0.70,21,-0.65,23,-0.55,20,-0.50,22,-0.40,24,-0.35,21,-0.25,20,-0.20,23,-0.10,21,-0.05,19,0.05,23,0.10,21,0.20,22,0.25,25,0.35,21,0.40,23,0.50,21,0.55,24,0.65,22,0.70,21,0.80,23,0.85,25,0.95,22,1.00,24,1.10,22,1.15,26,1.25,24,1.30,22,1.40,25,
2.06,55,2.16,53,2.21,56,2.31,52,2.36,54,2.46,56,2.51,53,2.61,55,2.66,52,2.76,54,2.81,56,2.91,53,2.96,55,3.06,51,3.11,54,3.21,56,3.26,53,3.36,55,3.41,52,3.51,54,3.56,56,3.66,53,3.71,55,3.81,51,3.86,54,3.96,56,4.01,52,4.11,54,4.16,55,4.26,52,4.31,54,4.41,56,4.46,53,4.56,54,4.61,52,4.71,55,4.76,53,4.86,54,4.91,56,4.99,52];
const tic32949757 = [-4.94,55.8,-4.91,52.6,-4.88,50.7,-4.73,56.9,-4.64,51.3,-4.53,53.2,-4.46,54.5,-4.38,47.6,-4.34,51.3,-4.28,52.1,-4.08,56.9,-4.01,52.6,-3.93,51.3,-3.86,51.7,-3.78,52.6,-3.63,51.3,-3.43,59.2,-3.37,51.7,-3.28,53.6,-3.18,53.2,-3.03,50.2,-2.92,47.9,-2.88,47.6,-2.83,55.8,-2.73,52.6,-2.58,54.5,-2.47,51.7,-2.38,45.7,-2.32,55.1,-2.27,53.2,-2.20,51.3,-2.02,57.7,-1.90,58.2,-1.87,51.3,-1.78,55.4,-1.72,53.2,-1.53,52.6,-1.48,50.7,-1.38,50.2,-1.33,45.7,-1.22,50.2,-1.02,41.4,-0.92,33.9,-0.87,31.5,-0.84,28.8,-0.77,23.6,-0.72,25.8,-0.57,24.0,-0.51,25.1,-0.42,21.7,-0.39,19.5,-0.32,18.9,-0.27,17.6,-0.21,20.2,0.03,15.7,0.14,10.1,0.14,20.8,0.21,19.5,0.29,21.7,0.44,20.2,0.51,20.8,0.63,16.5,0.66,25.8,0.74,20.2,0.84,20.8,0.96,22.7,1.04,23.6,1.11,25.8,1.14,27.0,1.27,33.9,1.49,42.3,1.54,41.4,1.60,56.4,1.75,51.3,1.79,52.1,1.99,58.8,2.02,53.2,2.09,49.8,2.14,51.7,2.24,54.5,2.35,51.7,2.50,47.0,2.59,46.4,2.70,53.2,2.74,51.3,2.85,49.4,3.00,48.9,3.10,54.5,3.15,53.2,3.22,46.1,3.30,45.7,3.49,50.7,3.52,45.7,3.60,51.3,3.75,58.8,3.86,51.3,3.95,49.8,4.10,52.6,4.16,55.1,4.28,49.8,4.43,52.6,4.55,51.3,4.65,53.2,4.73,53.9,4.88,51.7];
const tic37603669 = [-4.95,55.6,-4.95,50.9,-4.89,46.6,-4.73,54.1,-4.59,46.3,-4.55,50.0,-4.43,55.6,-4.43,58.4,-4.32,57.9,-4.14,58.4,-3.98,50.9,-3.91,52.2,-3.68,56.6,-3.59,55.6,-3.45,52.8,-3.41,55.2,-3.18,46.6,-3.14,49.6,-3.00,59.4,-2.91,43.4,-2.84,51.5,-2.73,53.4,-2.68,54.1,-2.45,50.4,-2.39,51.5,-2.27,46.6,-2.16,60.9,-2.09,50.0,-2.05,59.4,-1.93,52.8,-1.86,46.6,-1.77,50.4,-1.70,55.6,-1.59,49.1,-1.48,57.9,-1.41,45.3,-1.41,47.8,-1.36,46.6,-1.18,55.2,-1.09,37.8,-0.95,37.8,-0.95,34.1,-0.91,30.3,-0.80,29.4,-0.64,18.5,-0.50,17.8,-0.41,15.9,-0.34,18.2,-0.18,19.7,-0.11,15.9,0.00,23.8,0.05,13.5,0.11,11.6,0.18,20.4,0.34,19.1,0.41,21.5,0.50,21.5,0.64,29.4,0.80,31.3,0.86,32.8,0.95,34.6,1.09,36.0,1.09,54.1,1.18,52.8,1.32,47.8,1.36,53.4,1.48,52.8,1.55,65.9,1.64,51.5,1.70,52.8,1.77,52.2,1.86,55.6,1.93,59.4,2.05,64.6,2.09,45.9,2.16,50.4,2.32,48.5,2.39,62.7,2.45,55.2,2.55,52.2,2.61,57.9,2.68,51.5,2.77,53.7,2.84,55.6,2.95,52.8,3.07,45.9,3.14,56.6,3.18,51.5,3.30,53.4,3.36,49.6,3.52,53.7,3.59,62.2,3.64,53.4,3.75,50.0,3.86,54.7,3.91,48.1,4.05,54.7,4.09,44.4,4.14,49.6,4.20,51.9,4.27,62.7,4.32,53.7,4.43,51.5,4.55,52.8,4.59,56.0,4.66,55.2,4.77,53.4,4.89,50.9,4.95,54.7];
const tic344087362 = [-4.95,50.9,-4.39,57.1,-3.91,51.9,-3.42,51.5,-2.92,45.9,-2.42,33.7,-1.92,21.5,-1.40,10.3,-0.90,12.2,-0.43,14.4,0.09,8.8,0.59,12.2,1.09,14.0,1.58,18.2,2.08,26.0,2.60,40.6,3.08,39.7,4.10,51.3,4.62,52.4];
const tic170102285 = [-4.93,54.7,-4.86,51.9,-4.82,52.8,-4.77,50.4,-4.71,52.8,-4.59,45.9,-4.55,51.9,-4.48,53.7,-4.41,51.5,-4.32,54.1,-4.26,52.8,-4.19,50.9,-4.10,55.2,-4.03,52.2,-3.96,53.7,-3.87,51.9,-3.80,54.7,-3.74,52.8,-3.65,51.5,-3.58,53.7,-3.51,51.9,-3.42,50.4,-3.35,52.8,-3.28,54.1,-3.19,51.5,-3.13,52.8,-3.06,53.7,-2.97,54.7,-2.90,51.9,-2.83,50.9,-2.74,54.1,-2.67,52.8,-2.61,50.4,-2.52,52.2,-2.45,53.7,-2.38,50.9,-2.34,52.8,-2.29,51.5,-2.22,54.7,-2.16,53.4,-2.11,55.2,-2.07,51.9,-2.00,53.4,-1.93,48.5,-1.88,52.8,-1.84,51.5,-1.77,54.1,-1.70,50.4,-1.61,53.7,-1.55,51.9,-1.48,50.9,-1.43,52.8,-1.32,50.4,
-1.21,39.7,-1.09,38.8,-0.94,37.8,-0.87,25.7,-0.80,28.5,-0.76,19.7,-0.71,18.2,-0.64,17.2,-0.58,18.5,-0.49,16.3,-0.42,12.9,-0.35,16.7,-0.30,11.6,-0.26,14.8,-0.19,17.2,-0.12,14.0,-0.08,16.3,-0.03,12.9,0.03,15.4,0.10,12.5,0.15,17.2,0.19,13.5,0.26,18.2,0.33,16.3,0.37,17.2,0.42,18.5,0.49,16.7,0.55,17.8,0.60,16.3,0.64,18.5,0.71,16.7,0.78,22.8,0.82,29.8,0.87,34.1,1.00,34.1,1.09,40.6,1.16,43.4,1.23,48.1,1.28,50.0,1.32,53.4,1.39,54.7,
1.46,51.9,1.55,54.7,1.61,52.8,1.68,55.6,1.73,51.5,1.84,53.7,1.91,52.2,1.95,54.7,2.07,52.8,2.13,51.5,2.18,53.7,2.29,52.2,2.36,54.1,2.40,51.9,2.52,53.4,2.58,54.7,2.63,51.5,2.74,52.8,2.81,54.1,2.86,51.9,2.97,53.4,3.04,54.7,3.08,52.2,3.19,50.4,3.26,53.7,3.31,52.8,3.42,51.9,3.49,54.1,3.58,55.2,3.65,52.2,3.71,52.8,3.80,50.0,3.87,53.4,3.94,51.9,4.03,54.1,4.10,52.8,4.16,56.6,4.21,51.5,4.32,53.7,4.39,52.2,4.44,54.7,4.55,52.8,4.62,51.9,4.71,54.1,4.77,52.8,4.89,53.7,4.93,52.2];

// panel titles (TIC ids) in reading order and the matching series
const ticIds = ['363914762', '318063607', '72556406', '375144153', '238920875',
                '231736113', '231081369', '119685627', '25155310', '339672028',
                '238197638', '391745950', '393414358', '71469964', '34077285',
                '322687395', '61248906', '179317684', '147312741', '278683844',
                '340058770', '32949757', '37603669', '344087362', '170102285'];
const series = [tic363914762, tic318063607, tic72556406, tic375144153, tic238920875,
                tic231736113, tic231081369, tic119685627, tic25155310, tic339672028,
                tic238197638, tic391745950, tic393414358, tic71469964, tic34077285,
                tic322687395, tic61248906, tic179317684, tic147312741, tic278683844,
                tic340058770, tic32949757, tic37603669, tic344087362, tic170102285];

const majorTicks = [-5, 0, 5];
const majorTickLabels = ['\u22125', '0', '5'];
const minorTicks = [-4, -3, -2, -1, 1, 2, 3, 4];

// layout of the 5x5 grid (panel boxes, px)
const colLeft = [26, 295, 564, 833, 1102];
const rowTop = [5, 219, 433, 647, 861];
const boxW = 225, boxH = 178;
const pad = { left: 14, right: 14, top: 6, bottom: 42 };

function toPoints(flat) {
  const pts = [];
  for (let i = 0; i < flat.length; i += 2) pts.push({ x: flat[i], y: flat[i + 1] });
  return pts;
}

// frame, inward ticks, red title and (bottom row) tick labels
const panelFrame = {
  id: 'panelFrame',
  afterDraw(chart, args, opts) {
    const { ctx, chartArea: a } = chart;
    const xs = chart.scales.x;
    ctx.save();
    ctx.strokeStyle = '#000';
    ctx.lineWidth = 1.1;
    ctx.beginPath();
    majorTicks.concat(minorTicks).forEach(v => {
      const px = xs.getPixelForValue(v);
      const len = majorTicks.includes(v) ? 7 : 4;
      ctx.moveTo(px, a.bottom); ctx.lineTo(px, a.bottom - len);
      ctx.moveTo(px, a.top); ctx.lineTo(px, a.top + len);
    });
    ctx.stroke();
    ctx.lineWidth = 1.5;
    ctx.strokeRect(a.left, a.top, a.right - a.left, a.bottom - a.top);

    ctx.fillStyle = '#ff0000';
    ctx.font = '23px "DejaVu Serif"';
    ctx.textAlign = 'center';
    ctx.textBaseline = 'alphabetic';
    ctx.fillText(opts.title, (a.left + a.right) / 2, a.top + 36.5);

    if (opts.showLabels) {
      ctx.fillStyle = '#000';
      ctx.font = '26px "DejaVu Serif"';
      majorTicks.forEach((v, k) => {
        ctx.fillText(majorTickLabels[k], xs.getPixelForValue(v), a.bottom + 30);
      });
    }
    ctx.restore();
  }
};

ticIds.forEach((id, i) => {
  const row = Math.floor(i / 5), col = i % 5;
  const canvas = document.createElement('canvas');
  canvas.className = 'panel';
  canvas.width = boxW + pad.left + pad.right;
  canvas.height = boxH + pad.top + pad.bottom;
  canvas.style.left = (colLeft[col] - pad.left) + 'px';
  canvas.style.top = (rowTop[row] - pad.top) + 'px';
  document.body.appendChild(canvas);

  new Chart(canvas, {
    type: 'scatter',
    data: {
      datasets: [{
        data: toPoints(series[i]),
        backgroundColor: '#111',
        borderWidth: 0,
        pointRadius: 1.8
      }]
    },
    options: {
      responsive: false,
      animation: false,
      events: [],
      layout: { padding: pad },
      plugins: {
        legend: { display: false },
        tooltip: { enabled: false },
        panelFrame: { title: id, showLabels: row === 4 }
      },
      scales: {
        x: { type: 'linear', min: -5, max: 5, display: false },
        y: { type: 'linear', min: 0, max: 100, display: false }
      }
    },
    plugins: [panelFrame]
  });
});
</script>
</body>
</html>
